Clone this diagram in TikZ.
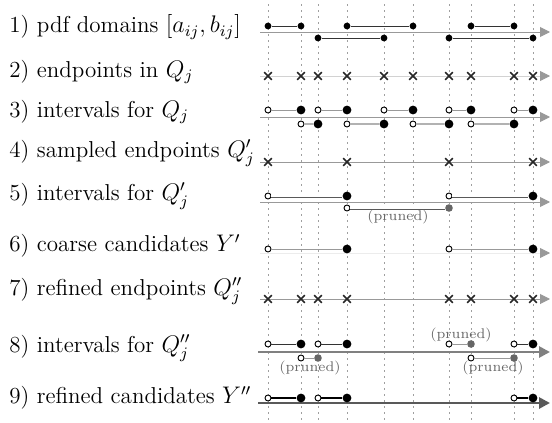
\documentclass[tikz,border=0pt]{standalone}
\usetikzlibrary{arrows.meta,shapes.misc}
\begin{document}
\begin{tikzpicture}[x=0.5pt,y=-0.5pt,
  vline/.style={gray!75,line width=0.4pt,dash pattern=on 1.2pt off 1.8pt},
  axisline/.style={gray!80,line width=0.5pt,-{Triangle[length=5pt,width=5pt]}},
  faintaxis/.style={gray!35,line width=0.4pt,-{Triangle[length=5pt,width=5pt,color=gray!80]}},
  thickaxis/.style={gray,line width=1.4pt,-{Triangle[length=5.5pt,width=5.5pt]}},
  fdot/.style={circle,fill=black,inner sep=0pt,minimum size=3.4pt},
  bdot/.style={circle,fill=black,inner sep=0pt,minimum size=4.4pt},
  gdot/.style={circle,fill=gray!80!black,inner sep=0pt,minimum size=3.8pt},
  odot/.style={circle,draw=black,fill=white,line width=0.45pt,inner sep=0pt,minimum size=3pt},
  xmark/.style={cross out,draw=black!85,line width=0.8pt,inner sep=0pt,minimum size=3pt},
  ival/.style={black!80,line width=0.5pt},
  gival/.style={gray!80,line width=0.5pt},
  wival/.style={gray!60,line width=1.3pt},
  dival/.style={gray!70!black,double=white,double distance=0.6pt,line width=0.45pt},
  kival/.style={black,line width=1.4pt},
  lab/.style={anchor=west,inner sep=0pt,font=\fontsize{11.5}{13}\selectfont},
  prn/.style={text=gray!80!black,inner sep=0pt,font=\fontsize{7}{8}\selectfont}]
\useasboundingbox (0,0) rectangle (552,423);
% vertical guide lines
\foreach \i/\x in {1/268,2/301,3/318,4/347,5/384,6/413,7/449,8/471,9/514,10/533}{
  \coordinate (t\i) at (\x,4);
  \coordinate (b\i) at (\x,421);
  \draw[vline] (t\i) -- (b\i);
}
% labels
\node[lab] (l1) at (9,27) {1) pdf domains $[a_{ij},b_{ij}]$};
\node[lab] (l2) at (9,72) {2) endpoints in $Q_j$};
\node[lab] (l3) at (9,112) {3) intervals for $Q_j$};
\node[lab] (l4) at (9,153) {4) sampled endpoints $Q'_j$};
\node[lab] (l5) at (9,196) {5) intervals for $Q'_j$};
\node[lab] (l6) at (9,246) {6) coarse candidates $Y'$};
\node[lab] (l7) at (9,291) {7) refined endpoints $Q''_j$};
\node[lab] (l8) at (9,348) {8) intervals for $Q''_j$};
\node[lab] (l9) at (9,398) {9) refined candidates $Y''$};
% ---- row 1
\coordinate (a1s) at (260,32); \coordinate (a1e) at (550,32);
\draw[axisline] (a1s) -- (a1e);
\foreach \n/\x/\y in {p1/268/26,p2/301/26,p4/347/26,p6/413/26,p8/471/26,p9/514/26,
                      q3/318/38,q5/384/38,q7/449/38,q10/533/38}{
  \node[fdot] (r1\n) at (\x,\y) {};}
\draw[ival] (r1p1) -- (r1p2); \draw[ival] (r1p4) -- (r1p6); \draw[ival] (r1p8) -- (r1p9);
\draw[ival] (r1q3) -- (r1q5); \draw[ival] (r1q7) -- (r1q10);
% ---- row 2
\coordinate (a2s) at (260,76); \coordinate (a2e) at (550,76);
\draw[faintaxis] (a2s) -- (a2e);
\foreach \i/\x in {1/268,2/301,3/318,4/347,5/384,6/413,7/449,8/471,9/514,10/533}{
  \node[xmark] (r2m\i) at (\x,76) {};}
% ---- row 3
\coordinate (a3s) at (260,117); \coordinate (a3e) at (550,117);
\draw[axisline] (a3s) -- (a3e);
\foreach \a/\b/\xa/\xb in {1/2/268/301,3/4/318/347,5/6/384/413,7/8/449/471,9/10/514/533}{
  \node[odot] (r3u\a) at (\xa,110) {};
  \node[bdot] (r3u\b) at (\xb,110) {};
  \draw[gival] (r3u\a) -- (r3u\b);}
\foreach \a/\b/\xa/\xb in {2/3/301/318,4/5/347/384,6/7/413/449,8/9/471/514}{
  \node[odot] (r3d\a) at (\xa,124) {};
  \node[bdot] (r3d\b) at (\xb,124) {};
  \draw[wival] (r3d\a) -- (r3d\b);}
% ---- row 4
\coordinate (a4s) at (260,162); \coordinate (a4e) at (550,162);
\draw[axisline] (a4s) -- (a4e);
\foreach \i/\x in {1/268,4/347,7/449,10/533}{
  \node[xmark] (r4m\i) at (\x,162) {};}
% ---- row 5
\coordinate (a5s) at (260,202); \coordinate (a5e) at (550,202);
\draw[axisline] (a5s) -- (a5e);
\node[odot] (r5a) at (268,196) {}; \node[bdot] (r5b) at (347,196) {};
\node[odot] (r5c) at (449,196) {}; \node[bdot] (r5d) at (533,196) {};
\draw[dival] (r5a) -- (r5b); \draw[dival] (r5c) -- (r5d);
\node[odot] (r5e) at (347,208) {}; \node[gdot] (r5f) at (449,208) {};
\draw[dival] (r5e) -- (r5f);
\node[prn] (pr5) at (398,217) {(pruned)};
% ---- row 6
\coordinate (a6s) at (260,253); \coordinate (a6e) at (550,253);
\draw[faintaxis,draw=gray!15] (a6s) -- (a6e);
\node[odot] (r6a) at (268,249) {}; \node[bdot] (r6b) at (347,249) {};
\node[odot] (r6c) at (449,249) {}; \node[bdot] (r6d) at (533,249) {};
\draw[gival] (r6a) -- (r6b); \draw[gival] (r6c) -- (r6d);
% ---- row 7
\coordinate (a7s) at (260,299); \coordinate (a7e) at (550,299);
\draw[axisline] (a7s) -- (a7e);
\foreach \i/\x in {1/268,2/301,3/318,4/347,7/449,8/471,9/514,10/533}{
  \node[xmark] (r7m\i) at (\x,299) {};}
% ---- row 8
\coordinate (a8s) at (258,352); \coordinate (a8e) at (550,352);
\draw[thickaxis] (a8s) -- (a8e);
\foreach \n/\xa/\xb in {a/268/301,b/318/347,d/514/533}{
  \node[odot] (r8\n1) at (\xa,344) {}; \node[bdot] (r8\n2) at (\xb,344) {};
  \draw[ival] (r8\n1) -- (r8\n2);}
\node[odot] (r8c1) at (449,344) {}; \node[gdot] (r8c2) at (471,344) {};
\draw[gival] (r8c1) -- (r8c2);
\node[prn] (pr8a) at (461,335) {(pruned)};
\node[odot] (r8e1) at (301,358) {}; \node[gdot] (r8e2) at (318,358) {};
\draw[gival] (r8e1) -- (r8e2);
\node[prn] (pr8b) at (310,368) {(pruned)};
\node[odot] (r8f1) at (471,358) {}; \node[gdot] (r8f2) at (514,358) {};
\draw[gival] (r8f1) -- (r8f2);
\node[prn] (pr8c) at (493,368) {(pruned)};
% ---- row 9
\coordinate (a9s) at (258,403); \coordinate (a9e) at (550,403);
\draw[thickaxis,gray!70!black] (a9s) -- (a9e);
\foreach \n/\xa/\xb in {a/268/301,b/318/347,c/514/533}{
  \node[odot] (r9\n1) at (\xa,398) {}; \node[bdot] (r9\n2) at (\xb,398) {};
  \draw[kival] (r9\n1) -- (r9\n2);}
\end{tikzpicture}
\end{document}
